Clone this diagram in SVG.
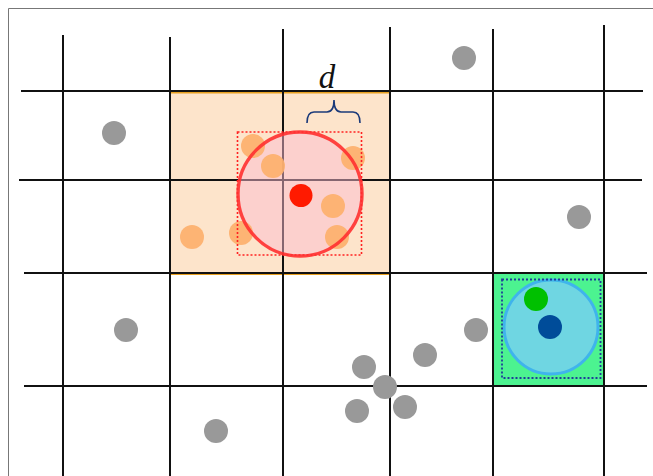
<svg xmlns="http://www.w3.org/2000/svg" width="653" height="476" viewBox="0 0 653 476">
<style>
.grid line{stroke:#111;stroke-width:2}
.gray{fill:#999}
.odot{fill:#fdb06c;opacity:0.92}
</style>
<rect x="0" y="0" width="653" height="476" fill="#fff"/>
<path d="M8.5,476 V8.5 H653" fill="none" stroke="#777" stroke-width="1"/>
<g id="orange-cell">
<rect x="170" y="91" width="220" height="182" fill="#fde4cb"/>
<line x1="170" y1="92.5" x2="390" y2="92.5" stroke="#e8a020" stroke-width="2"/>
<line x1="170" y1="274" x2="390" y2="274" stroke="#e8a020" stroke-width="2"/>
</g>
<g id="green-cell">
<rect x="493" y="273" width="111" height="113" fill="#4cf390"/>
</g>
<g id="grid" class="grid">
<line x1="63" y1="35" x2="63" y2="476"/>
<line x1="170" y1="37" x2="170" y2="476"/>
<line x1="283" y1="29" x2="283" y2="476"/>
<line x1="390" y1="27" x2="390" y2="476"/>
<line x1="493" y1="29" x2="493" y2="476"/>
<line x1="604" y1="25" x2="604" y2="476"/>
<line x1="21" y1="91" x2="643" y2="91"/>
<line x1="19" y1="180" x2="642" y2="180"/>
<line x1="24" y1="273" x2="647" y2="273"/>
<line x1="24" y1="386" x2="647" y2="386"/>
</g>
<g id="red-query">
<circle cx="300" cy="194" r="62" fill="#fbbccf" opacity="0.5"/>
<g id="orange-points">
<circle class="odot" cx="253" cy="146" r="12"/>
<circle class="odot" cx="273" cy="166" r="12"/>
<circle class="odot" cx="353" cy="158" r="12"/>
<circle class="odot" cx="333" cy="206" r="12"/>
<circle class="odot" cx="337" cy="237" r="12"/>
<circle class="odot" cx="241" cy="233" r="12"/>
<circle class="odot" cx="192" cy="237" r="12"/>
</g>
<rect x="237.5" y="132" width="124" height="123" fill="none" stroke="#ff2020" stroke-width="1.6" stroke-dasharray="2,2"/>
<circle cx="300" cy="194" r="62" fill="none" stroke="#ff3030" stroke-width="3.4" opacity="0.9"/>
<circle cx="301" cy="195.5" r="11.5" fill="#ff1a00"/>
</g>
<g id="d-label">
<path d="M307,123 Q307,112 314,112 L327,112 Q334,112 334,100 Q334,112 341,112 L353,112 Q360,112 360,123" fill="none" stroke="#1b3a7a" stroke-width="1.6"/>
<text x="327" y="88" font-family="Liberation Serif, serif" font-style="italic" font-size="33" text-anchor="middle" fill="#111">d</text>
</g>
<g id="blue-query">
<circle cx="551" cy="327" r="47" fill="#6fd6e2" stroke="#3fb4ec" stroke-width="3"/>
<rect x="502" y="279.5" width="98.5" height="98.5" fill="none" stroke="#1f3c99" stroke-width="1.8" stroke-dasharray="2,2"/>
<circle cx="536" cy="299" r="12" fill="#00c000"/>
<circle cx="550" cy="327" r="12" fill="#004c99"/>
</g>
<g id="gray-points">
<circle class="gray" cx="464" cy="58" r="12"/>
<circle class="gray" cx="114" cy="133" r="12"/>
<circle class="gray" cx="579" cy="217" r="12"/>
<circle class="gray" cx="126" cy="330" r="12"/>
<circle class="gray" cx="476" cy="330" r="12"/>
<circle class="gray" cx="425" cy="355" r="12"/>
<circle class="gray" cx="364" cy="367" r="12"/>
<circle class="gray" cx="385" cy="387" r="12"/>
<circle class="gray" cx="357" cy="411" r="12"/>
<circle class="gray" cx="405" cy="407" r="12"/>
<circle class="gray" cx="216" cy="431" r="12"/>
</g>
</svg>
